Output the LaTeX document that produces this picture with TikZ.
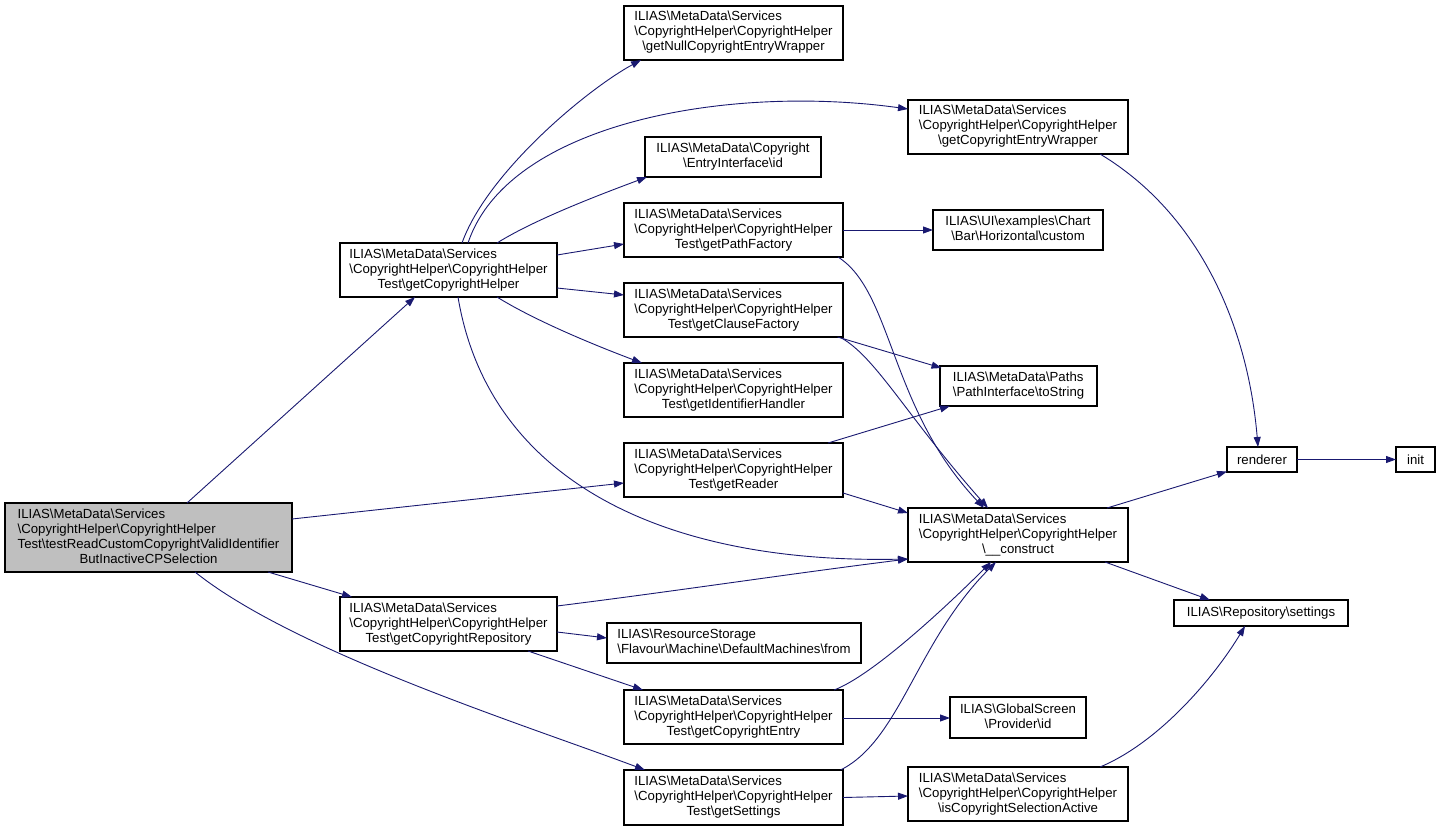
\documentclass[tikz,border=0pt]{standalone}
\usepackage{fontspec}
\setmainfont{Liberation Sans}
\usetikzlibrary{arrows.meta}
\definecolor{edgeblue}{HTML}{191970}
\definecolor{maingray}{HTML}{BFBFBF}
\newcommand{\bsl}{\textbackslash}
\newcommand{\fourl}[4]{\begin{tabular}{@{}l@{}}#1\\#2\\#3\\\multicolumn{1}{@{}c@{}}{#4}\end{tabular}}
\newcommand{\threel}[3]{\begin{tabular}{@{}l@{}}#1\\#2\\\multicolumn{1}{@{}c@{}}{#3}\end{tabular}}
\newcommand{\twol}[2]{\begin{tabular}{@{}l@{}}#1\\\multicolumn{1}{@{}c@{}}{#2}\end{tabular}}
\tikzset{
  box/.style={draw=black, line width=1.1pt, fill=white, inner sep=0pt,
    font=\fontsize{13.2}{15}\selectfont},
  edg/.style={draw=edgeblue, line width=0.9pt, -{Triangle[length=10pt,width=7pt]}}
}
\begin{document}
\begin{tikzpicture}[x=1pt,y=-1pt]
\useasboundingbox (0,0) rectangle (1440,832);

\node[box, fill=maingray, minimum width=287, minimum height=69] (main) at (148.5,537.5)
  {\fourl{ILIAS\bsl MetaData\bsl Services}{\bsl CopyrightHelper\bsl CopyrightHelper}{Test\bsl testReadCustomCopyrightValidIdentifier}{ButInactiveCPSelection}};
\node[box, minimum width=217, minimum height=54] (gch) at (448.5,270)
  {\threel{ILIAS\bsl MetaData\bsl Services}{\bsl CopyrightHelper\bsl CopyrightHelper}{Test\bsl getCopyrightHelper}};
\node[box, minimum width=219, minimum height=54] (null) at (733.5,33)
  {\threel{ILIAS\bsl MetaData\bsl Services}{\bsl CopyrightHelper\bsl CopyrightHelper}{\bsl getNullCopyrightEntryWrapper}};
\node[box, minimum width=220, minimum height=54] (cew) at (1018,127)
  {\threel{ILIAS\bsl MetaData\bsl Services}{\bsl CopyrightHelper\bsl CopyrightHelper}{\bsl getCopyrightEntryWrapper}};
\node[box, minimum width=176, minimum height=40] (eid) at (733,157)
  {\twol{ILIAS\bsl MetaData\bsl Copyright}{\bsl EntryInterface\bsl id}};
\node[box, minimum width=219, minimum height=54] (gpf) at (733.5,230)
  {\threel{ILIAS\bsl MetaData\bsl Services}{\bsl CopyrightHelper\bsl CopyrightHelper}{Test\bsl getPathFactory}};
\node[box, minimum width=170, minimum height=40] (ui) at (1018,230)
  {\twol{ILIAS\bsl UI\bsl examples\bsl Chart}{\bsl Bar\bsl Horizontal\bsl custom}};
\node[box, minimum width=219, minimum height=54] (gcf) at (733.5,310)
  {\threel{ILIAS\bsl MetaData\bsl Services}{\bsl CopyrightHelper\bsl CopyrightHelper}{Test\bsl getClauseFactory}};
\node[box, minimum width=219, minimum height=54] (gih) at (733.5,390)
  {\threel{ILIAS\bsl MetaData\bsl Services}{\bsl CopyrightHelper\bsl CopyrightHelper}{Test\bsl getIdentifierHandler}};
\node[box, minimum width=157, minimum height=40] (tos) at (1018.5,386)
  {\twol{ILIAS\bsl MetaData\bsl Paths}{\bsl PathInterface\bsl toString}};
\node[box, minimum width=219, minimum height=54] (grd) at (733.5,470)
  {\threel{ILIAS\bsl MetaData\bsl Services}{\bsl CopyrightHelper\bsl CopyrightHelper}{Test\bsl getReader}};
\node[box, minimum width=220, minimum height=54] (con) at (1018,535)
  {\threel{ILIAS\bsl MetaData\bsl Services}{\bsl CopyrightHelper\bsl CopyrightHelper}{\bsl \_\_construct}};
\node[box, minimum width=70, minimum height=25] (ren) at (1262,459.5) {renderer};
\node[box, minimum width=39, minimum height=25] (init) at (1415.5,459.5) {init};
\node[box, minimum width=174, minimum height=26] (rset) at (1261,613) {ILIAS\bsl Repository\bsl settings};
\node[box, minimum width=217, minimum height=54] (gcr) at (448.5,624)
  {\threel{ILIAS\bsl MetaData\bsl Services}{\bsl CopyrightHelper\bsl CopyrightHelper}{Test\bsl getCopyrightRepository}};
\node[box, minimum width=254, minimum height=40] (dmf) at (734,643)
  {\twol{ILIAS\bsl ResourceStorage}{\bsl Flavour\bsl Machine\bsl DefaultMachines\bsl from}};
\node[box, minimum width=219, minimum height=54] (gce) at (733.5,717)
  {\threel{ILIAS\bsl MetaData\bsl Services}{\bsl CopyrightHelper\bsl CopyrightHelper}{Test\bsl getCopyrightEntry}};
\node[box, minimum width=136, minimum height=41] (gsp) at (1018,717.5)
  {\twol{ILIAS\bsl GlobalScreen}{\bsl Provider\bsl id}};
\node[box, minimum width=219, minimum height=55] (gst) at (733.5,797.5)
  {\threel{ILIAS\bsl MetaData\bsl Services}{\bsl CopyrightHelper\bsl CopyrightHelper}{Test\bsl getSettings}};
\node[box, minimum width=220, minimum height=54] (ics) at (1018,794)
  {\threel{ILIAS\bsl MetaData\bsl Services}{\bsl CopyrightHelper\bsl CopyrightHelper}{\bsl isCopyrightSelectionActive}};

% edges from main
\draw[edg] ([shift={(38.5,-34.5)}]main.center) -- ([shift={(-33.5,27)}]gch.center);
\draw[edg] ([shift={(143.5,-18.5)}]main.center) -- ([shift={(-109.5,13)}]grd.center);
\draw[edg] ([shift={(119.5,34.5)}]main.center) -- ([shift={(-96.5,-27)}]gcr.center);
\draw[edg] ([shift={(46.5,34.5)}]main.center) .. controls +(100,80) and +(-120,-45) .. ([shift={(-88.5,-27.5)}]gst.center);

% edges from getCopyrightHelper
\draw[edg] ([shift={(13.5,-27)}]gch.center) .. controls +(25,-70) and +(-55,30) .. ([shift={(-92.5,27)}]null.center);
\draw[edg] ([shift={(19.5,-27)}]gch.center) .. controls +(40,-120) and +(-180,-25) .. ([shift={(-110,-18)}]cew.center);
\draw[edg] ([shift={(48.5,-27)}]gch.center) .. controls +(40,-25) and +(-40,15) .. ([shift={(-86,20)}]eid.center);
\draw[edg] ([shift={(108.5,-15)}]gch.center) -- ([shift={(-109.5,14)}]gpf.center);
\draw[edg] ([shift={(108.5,18)}]gch.center) -- ([shift={(-109.5,-15)}]gcf.center);
\draw[edg] ([shift={(48.5,27)}]gch.center) .. controls +(40,25) and +(-40,-15) .. ([shift={(-91.5,-27)}]gih.center);
\draw[edg] ([shift={(9.5,27)}]gch.center) .. controls +(30,180) and +(-250,5) .. ([shift={(-110,24)}]con.center);

% getPathFactory
\draw[edg] ([shift={(109.5,0)}]gpf.center) -- ([shift={(-85,0)}]ui.center);
\draw[edg] ([shift={(104.5,27)}]gpf.center) .. controls +(55,35) and +(-95,-100) .. ([shift={(-34,-27)}]con.center);

% getClauseFactory
\draw[edg] ([shift={(104,27)}]gcf.center) -- ([shift={(-77,-18)}]tos.center);
\draw[edg] ([shift={(108,28)}]gcf.center) .. controls +(35,20) and +(-80,-90) .. ([shift={(-30,-27)}]con.center);

% getReader
\draw[edg] ([shift={(94.5,-27)}]grd.center) -- ([shift={(-68.5,20)}]tos.center);
\draw[edg] ([shift={(109.5,23)}]grd.center) -- ([shift={(-110,-22)}]con.center);

% right part
\draw[edg] ([shift={(82,27)}]cew.center) .. controls +(100,60) and +(-10,-120) .. ([shift={(-4,-12.5)}]ren.center);
\draw[edg] ([shift={(89,-27)}]con.center) -- ([shift={(-35,12)}]ren.center);
\draw[edg] ([shift={(35,0)}]ren.center) -- ([shift={(-19.5,0)}]init.center);
\draw[edg] ([shift={(87,27)}]con.center) -- ([shift={(-51,-13)}]rset.center);

% getCopyrightRepository
\draw[edg] ([shift={(108.5,-18)}]gcr.center) .. controls +(120,-15) and +(-120,15) .. ([shift={(-110,24)}]con.center);
\draw[edg] ([shift={(108.5,8)}]gcr.center) -- ([shift={(-127,-5)}]dmf.center);
\draw[edg] ([shift={(79.5,27)}]gcr.center) -- ([shift={(-90.5,-27)}]gce.center);

% getCopyrightEntry
\draw[edg] ([shift={(100.5,-27)}]gce.center) .. controls +(40,-15) and +(-40,40) .. ([shift={(-27,27)}]con.center);
\draw[edg] ([shift={(109.5,1)}]gce.center) -- ([shift={(-68,0.5)}]gsp.center);

% getSettings
\draw[edg] ([shift={(107,-27.5)}]gst.center) .. controls +(60,-30) and +(-80,80) .. ([shift={(-22,27)}]con.center);
\draw[edg] ([shift={(109.5,0)}]gst.center) -- ([shift={(-110,2)}]ics.center);

% isCopyrightSelectionActive
\draw[edg] ([shift={(82,-27)}]ics.center) .. controls +(60,-25) and +(-30,50) .. ([shift={(-16,13)}]rset.center);
\end{tikzpicture}
\end{document}
